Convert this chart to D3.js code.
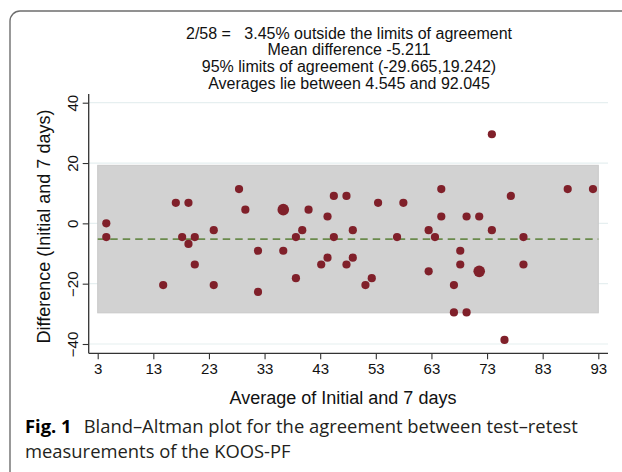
<!DOCTYPE html>
<html>
<head>
<meta charset="utf-8">
<script src="https://cdn.jsdelivr.net/npm/d3@7/dist/d3.min.js"></script>
<style>
  html, body { margin: 0; padding: 0; background: #fff; }
  svg { display: block; }
</style>
</head>
<body>
<svg id="chart" width="622" height="472"></svg>
<script>
// ---- Data ----
const averages = [4.545, 4.545, 14.773, 17.045, 18.182, 19.318, 19.318, 20.455, 20.455, 23.864,
  23.864, 28.409, 29.545, 31.818, 31.818, 36.364, 36.364, 38.636, 38.636, 39.773,
  40.909, 43.182, 44.318, 44.318, 45.455, 45.455, 47.727, 47.727, 48.864, 48.864,
  51.136, 52.273, 53.409, 56.818, 57.955, 62.5, 62.5, 63.636, 64.773, 64.773,
  67.045, 67.045, 68.182, 68.182, 69.318, 69.318, 71.591, 71.591, 73.864, 73.864,
  76.136, 77.273, 79.545, 79.545, 87.5, 92.045];
const differences = [0, -4.545, -20.455, 6.818, -4.545, 6.818, -6.818, -4.545, -13.636, -2.273,
  -20.455, 11.364, 4.545, -9.091, -22.727, 4.545, -9.091, -4.545, -18.182, -2.273,
  4.545, -13.636, 2.273, -11.364, 9.091, -4.545, 9.091, -13.636, -2.273, -11.364,
  -20.455, -18.182, 6.818, -4.545, 6.818, -2.273, -15.909, -4.545, 11.364, 2.273,
  -20.455, -29.545, -9.091, -13.636, 2.273, -29.545, 2.273, -15.909, 29.545, -2.273,
  -38.636, 9.091, -4.545, -13.636, 11.364, 11.364];
const counts = [1, 1, 1, 1, 1, 1, 1, 1, 1, 1,
  1, 1, 1, 1, 1, 2, 1, 1, 1, 1,
  1, 1, 1, 1, 1, 1, 1, 1, 1, 1,
  1, 1, 1, 1, 1, 1, 1, 1, 1, 1,
  1, 1, 1, 1, 1, 1, 1, 2, 1, 1,
  1, 1, 1, 1, 1, 1];
const meanDiff = -5.211;
const limits = [-29.665, 19.242];
const xTicks = [3, 13, 23, 33, 43, 53, 63, 73, 83, 93];
const yTicks = [-40, -20, 0, 20, 40];
const titleLines = [
  "2/58 =   3.45% outside the limits of agreement",
  "Mean difference -5.211",
  "95% limits of agreement (-29.665,19.242)",
  "Averages lie between 4.545 and 92.045"
];
const xTitle = "Average of Initial and 7 days";
const yTitle = "Difference (Initial and 7 days)";
const captionBold = "Fig. 1";
const captionLine1 = "Bland\u2013Altman plot for the agreement between test\u2013retest";
const captionLine2 = "measurements of the KOOS-PF";

// ---- Layout ----
const svg = d3.select("#chart");
const chartFont = "'Liberation Sans', Arial, sans-serif";
const capFont = "'Open Sans', 'Noto Sans', sans-serif";

const plotLeft = 88.7, plotRight = 608, plotTop = 94, plotBottom = 353.3;
const x = d3.scaleLinear().domain([3, 93]).range([97.7, 598.3]);
const y = d3.scaleLinear().domain([-40, 40]).range([344, 102.7]);

// outer frame (only left/top visible in the reference)
svg.append("rect")
  .attr("x", 10).attr("y", 11).attr("width", 700).attr("height", 600)
  .attr("rx", 10).attr("ry", 10)
  .attr("fill", "none").attr("stroke", "#6e6e6e").attr("stroke-width", 1.4);

// title
svg.append("g").selectAll("text").data(titleLines).join("text")
  .attr("x", 349).attr("y", (d, i) => 38.5 + i * 16.8)
  .attr("text-anchor", "middle")
  .attr("font-family", chartFont).attr("font-size", 16)
  .attr("fill", "#111")
  .style("white-space", "pre")
  .text(d => d);

// gridlines
svg.append("g").selectAll("line").data(yTicks).join("line")
  .attr("x1", plotLeft).attr("x2", plotRight)
  .attr("y1", d => y(d)).attr("y2", d => y(d))
  .attr("stroke", "#e6eff0").attr("stroke-width", 1.2);

// limits of agreement band
svg.append("rect")
  .attr("x", x(3)).attr("width", x(93) - x(3))
  .attr("y", y(limits[1])).attr("height", y(limits[0]) - y(limits[1]))
  .attr("fill", "#d2d2d2").attr("stroke", "#c9c9c9").attr("stroke-width", 1);

// mean line
svg.append("line")
  .attr("x1", x(3)).attr("x2", x(93))
  .attr("y1", y(meanDiff)).attr("y2", y(meanDiff))
  .attr("stroke", "#6a8a4c").attr("stroke-width", 1.8)
  .attr("stroke-dasharray", "7.5,5");

// points
const pts = averages.map((a, i) => ({ a, d: differences[i], n: counts[i] }));
svg.append("g").selectAll("circle").data(pts).join("circle")
  .attr("cx", d => x(d.a)).attr("cy", d => y(d.d))
  .attr("r", d => 4.1 * Math.sqrt(d.n))
  .attr("fill", "#80202a");

// axes
const xAxis = d3.axisBottom(x).tickValues(xTicks).tickSize(6).tickSizeOuter(0).tickPadding(4);
const gx = svg.append("g").attr("transform", `translate(0,${plotBottom})`).call(xAxis);
gx.select(".domain").remove();
gx.append("line").attr("x1", plotLeft).attr("x2", plotRight).attr("y1", 0).attr("y2", 0)
  .attr("stroke", "#333").attr("stroke-width", 1.3);
gx.selectAll(".tick line").attr("stroke", "#333").attr("stroke-width", 1.1);
gx.selectAll(".tick text").attr("font-family", chartFont).attr("font-size", 15).attr("fill", "#111")
  .attr("dy", "0.71em");

const yAxis = d3.axisLeft(y).tickValues(yTicks).tickSize(6).tickSizeOuter(0).tickPadding(4);
const gy = svg.append("g").attr("transform", `translate(${plotLeft},0)`).call(yAxis);
gy.select(".domain").remove();
gy.append("line").attr("x1", 0).attr("x2", 0).attr("y1", plotTop).attr("y2", plotBottom)
  .attr("stroke", "#333").attr("stroke-width", 1.3);
gy.selectAll(".tick line").attr("stroke", "#333").attr("stroke-width", 1.1);
gy.selectAll(".tick text")
  .attr("font-family", chartFont).attr("font-size", 15).attr("fill", "#111")
  .attr("x", null).attr("dy", null)
  .attr("text-anchor", "middle")
  .attr("transform", "translate(-11,0) rotate(-90)")
  .attr("y", 0);

// axis titles
svg.append("text")
  .attr("x", 343).attr("y", 403.5)
  .attr("text-anchor", "middle")
  .attr("font-family", chartFont).attr("font-size", 18).attr("fill", "#111")
  .text(xTitle);
svg.append("text")
  .attr("transform", "translate(50,226.5) rotate(-90)")
  .attr("text-anchor", "middle")
  .attr("font-family", chartFont).attr("font-size", 18).attr("fill", "#111")
  .text(yTitle);

// caption
const cap = svg.append("text").attr("x", 25).attr("y", 433)
  .attr("font-family", capFont).attr("font-size", 18.4).attr("fill", "#231f20");
cap.append("tspan").attr("font-weight", "bold").attr("fill", "#000").text(captionBold);
cap.append("tspan").attr("dx", 12).text(captionLine1);
svg.append("text").attr("x", 25).attr("y", 458)
  .attr("font-family", capFont).attr("font-size", 18.4).attr("fill", "#231f20")
  .text(captionLine2);
</script>
</body>
</html>
